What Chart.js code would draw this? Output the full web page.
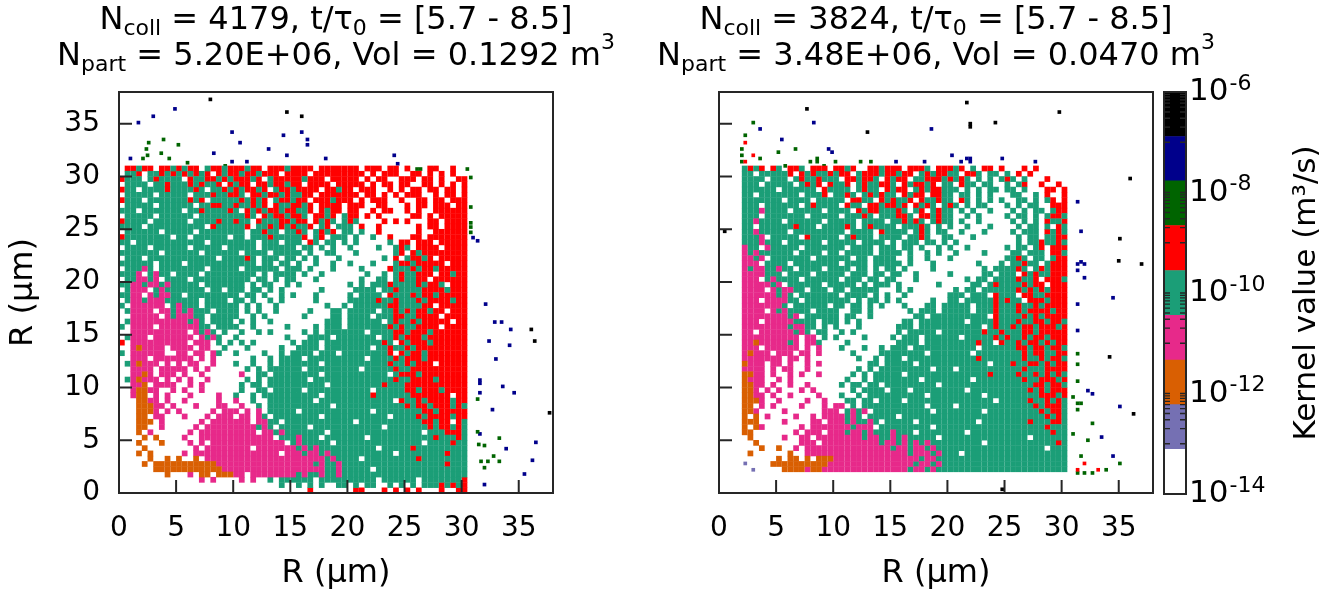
<!DOCTYPE html>
<html>
<head>
<meta charset="utf-8">
<script src="https://cdn.jsdelivr.net/npm/chart.js@4.4.0/dist/chart.umd.min.js"></script>
<style>
  html, body { margin: 0; padding: 0; background: #fff; overflow: hidden; }
  #wrap { position: relative; width: 1332px; height: 597px; }
  canvas { position: absolute; top: 0; }
  .ttl { position: absolute; width: 600px; text-align: center; white-space: nowrap;
         font: 32px/36px 'DejaVu Sans', sans-serif; color: #000; }
  .ttl sub, .ttl sup { font-size: 22px; line-height: 0; vertical-align: baseline; position: relative; }
  .ttl sub { top: 6px; }
  .ttl sup { top: -16px; }
</style>
</head>
<body>
<div id="wrap">
  <canvas id="left" width="600" height="597" style="left:0"></canvas>
  <canvas id="right" width="600" height="597" style="left:600px"></canvas>
  <canvas id="cbar" width="177" height="597" style="left:1155px"></canvas>
  <div class="ttl" style="left:36px;top:0">N<sub>coll</sub> = 4179, t/τ<sub>0</sub> = [5.7 - 8.5]</div>
  <div class="ttl" style="left:36px;top:36px">N<sub>part</sub> = 5.20E+06, Vol = 0.1292 m<sup>3</sup></div>
  <div class="ttl" style="left:636px;top:0">N<sub>coll</sub> = 3824, t/τ<sub>0</sub> = [5.7 - 8.5]</div>
  <div class="ttl" style="left:636px;top:36px">N<sub>part</sub> = 3.48E+06, Vol = 0.0470 m<sup>3</sup></div>
</div>
<script>
// axes
const xTicks = [0, 5, 10, 15, 20, 25, 30, 35];
const yTicks = [0, 5, 10, 15, 20, 25, 30, 35];
const axisMax = 38;

// kernel classes (colour bands of the colour bar, low -> high)
const classes = ['v', 'o', 'p', 't', 'r', 'g', 'n', 'k'];
const classColors = {
  v: '#7570b3', o: '#d95f02', p: '#e7298a', t: '#1b9e77',
  r: '#ff0000', g: '#006400', n: '#00008b', k: '#000000'
};

// colour bar
const cbEdges = [1e-14, 7.7e-14, 6.0e-13, 4.6e-12, 3.6e-11, 2.8e-10, 2.2e-9, 1.7e-8, 1.3e-7, 1e-6];
const cbColors = ['#ffffff', '#7570b3', '#d95f02', '#e7298a', '#1b9e77', '#ff0000', '#006400', '#00008b', '#000000'];
const cbLabelExp = [-14, -12, -10, -8, -6];
const cbMinorExp = [-13, -11, -9, -7];

// binned kernel map, 0.5 um cells; rows from R=31 down to R=0, groups of 10 columns from R=0
const cell = 0.5;
const gridTop = 31;

const grid1 = [
  ".rrtrr.rrt rtrr.trrtr rrtrr.rrrt rrrr.rrrrr rr.rrr.rr. r...rr..r. ..",
  ".ttr.ttrtr trtrtr.rtr rtrrtrrr.r rrr.rrrrrr rrr.r.rrr. .rr.r.r.r. ..",
  "rttt.trttt t.rttrrtrt rrrtr.trrr rrtrrr.rrr rr.r.rr..r rr.rr.r..r r.",
  ".tttt.ttrt ttrtrttr.r trr.rrtrrt rr.rrrr.rr rrr.r.rr.r r..rr.r.r. r.",
  "rtt.ttttrt tttrt.ttrt rtrrtr.trr trrrr.rrtr r.rrr..r.r .rr.rr.rr. r.",
  ".ttttt.ttt tt.tttrttr rt.rrtrrtr ttrr.rrrrr rr.rr.r.r. rrr..r.rr. r.",
  "rttt.ttttt ttrtr.tttt trtrtr.trr trr.rrrtrr r.r.rrr..r ..rr.rr.rr r.",
  ".ttttt.ttt ttt.ttrrtt rttrtr.rtt rrtr.rrrr. rrr..rr... r.rr.rrr.r r.",
  "ttt.tttttt t.ttrttttr t.rtrtrrtr rttr.rtrr. rr..r.rr.. r.r..rrrrr r.",
  ".ttttt.ttt ttt.tttttt ttrt.rtrrt rrt.rrtr.t rr.r.r.... .rr.r.rrrr r.",
  "rtttt.tttt tt.ttttrtt rtt.rtttrr trr.rtrt.t rt....r.r. r...rr.rrr r.",
  "tttt.ttttt ttttt.rttt ttr.ttrtrt rttr.tr.tt t.r..r.... ..r.rr.rrr r.",
  ".tttttt.tt ttt.tttttt tt.ttrtt.t trt.trtr.t t.t..r.... ..r..rrrrr r.",
  "rtttttttt. tt.tttttt. tt.tttrttt ttr.tr.ttt .t..t..r.. .rr.rrrrrr r.",
  "tt.ttttttt ttttt.tttt tttt.ttt.t tt.rt.tt.t .t.....t.r r.rrr.rrrr r.",
  ".tttt.tttt tt.ttttt.t tttt.ttttt t.tt.t.t.. t....t..tr t.rrrr.rrr r.",
  "ttttttt.tt tttt.ttttt t.tttt.ttt tt.t..tt.. .t......tr .rtrrrrrrr r.",
  ".ttt.ttttt ttttttt.tt ttrt.ttt.t t.t.t...t. ......t.r. trrtr.rrrr r.",
  "tttttt.ttt t.tttttttt tttt.tt.tt .t..t..t.. t...t...tr rtrrrrr.rr r.",
  ".tttpt.ttt ttttt.tttt t.tttttt.t tt.t...t.. ..t....rtt trtrrtrrrr r.",
  "tttp.tptt. tttt.ttttt tttt.t.ttt t.t..t.... ...t..t.tr ttrrr.rrtr r.",
  ".ttpptp.tt tt.ttttttt ttt.tt.t.t t...t..... ..t..tt.tr ttrr.rrrrr r.",
  "ttpptpptpt tttt.ttttt tt.t.tt..t .t........ t.t.tttrtt ttrtrrt.rr r.",
  ".tppp.tptt ttttt.tt.t tt.tt.t.t. .....t.... .tttt.ttrt tttrrrrtrr r.",
  "ttpp.ptppt t.tttttttt t.tt.t..t. t...t..... t.tttt.rtt trtrrtrrrr r.",
  ".tpptppptt tttt.tttt. tt.t..t.t. ....t..... tttttrttrt ttrtrrrrtr r.",
  "t.pppppp.t pttt.ttttt t.t.t..t.. ......t..t .ttttttrrt tttrr.rrrr r.",
  ".tpppp.ppt ptpttt.ttt t.t.t..t.. ...t...tt. ttttt.ttrt rtrrtrr.rr r.",
  "..ppppp.pt ppptt.tttt t..t.t.... ..t....tt. tttt.tttrr ttrrrr.rrr r.",
  ".tpppppppp pptpt.tttt .t.t..t... ......ttt. tttttt.trt trtrrrrr.r r.",
  "t.pppp.ppp pppptt.ttt t..t.....t ....t.ttt. tttttttrtr ttrrrr.rrr r.",
  "..pppppppp pp.ptpt.t. .t..t.t... ..t.t.tttt ttt.ttttrr trrrtrrrrr r.",
  ".tppp.pppp ppp.ptpt.. t........t ...tttt.tt ttttt.ttrt rrrtrrrrrr r.",
  "r.pppppppp pp.ppp.t.t .t.t...... t.ttt.tttt ttttttrt.r trrrtrrrrr r.",
  "..popppp.p ppp.pp..t. ..t.....t. .tttt.tttt tttt.ttrtt rtrrrrrrrr r.",
  "t.pppppp.. pp.pp.pt.. t....t..t. tttt.ttt.t tttttttr.r trrtrrrrrr r.",
  "..ppp.pppp ppp.p.p... ...t..t.tt tt.ttttttt ttt.ttttrt rrrtrrrrrr r.",
  ".tpoppp.p. p.pp..p... t..t..t.tt ttttt.tttt tttttttrtt rtrrr.rrrr r.",
  "..pppp.ppp pp.p.p.... ..t.t.tttt tt.ttttttt tt.tttttrt trrrrrrrrr r.",
  "..ppop.ppp .p..p..... .p..tt.ttt ttttt.tttt ttttttt.tr rrtrrrrrrr r.",
  ".tpoppp.p. p.p..p.... ..t.t.tttt ttt.tttttt ttttttttrt trrrrtrrrr r.",
  "..ppo.pppp ..p.p..... .t.tt.tttt tttttt.ttt ttttttrttt rrrrrrrrrr r.",
  "..poopp..p .p..p..... .t..tt.ttt tt.ttttttt tttt.ttttt rrtrrrtrrr r.",
  "..poo.p.p. ..p....p.. t..t.ttttt ttttt.tttt ttttrttttt trrrrrrr.r r.",
  "...oopp.p. .p.....p.. p..t..tttt tttt.ttttt tttttttt.r ttrtrrrrtr r.",
  "...ooopp.p ...p...pp. .p..t.tttt ttttttt.tt tttttttttt rtrrtrrrtr t.",
  "...ooop.p. p.....p.pp p.p.p.tttt t.tttttttt tttt.ttttt tttrrtrrrr r.",
  "...oo.pp.. .p...p.ppp .pp.pt.ttt ttttt.tttt ttttttt.tt ttrtrrrrtr r.",
  "...ooo.p.. ....p.pppp ppp.pptt.t tttttttttt t.tttttttt tttrrtrr.r t.",
  "...oo..p.. ...p.ppppp pppptpt.tt ttt.tttttt tttttt.ttt ttttrtrrtr t.",
  "...o.p.... ..p.pppppp pppp.pptpt tttttt.ttt tttttttttt ttt.tttrrr t.",
  "....o.o... .p..pppppp ppppppp.tt tpttt.tttt ttt.tttttt tttttrtttr t.",
  "...o...o.. ..p.p.pppp ppppppppp. tpttttt.tt tttttttttt ttt.ttttrt t.",
  "....o..... ...p.ppppp ppp.pppppp ptptpttttt ttttt.tttt trtttttttt t.",
  "...o.o.... .p.ppppppp pppppppp.p pptpptpttt tttttttt.t tttttttrtt t.",
  ".....o..o. o..o.ppppp pppppppppp pppppptptt tt.ttttttt ttrttttttt t.",
  "....o.oooo oooooooppp pppppppppp pppptpttpt tttttttttt tttttttrtt t.",
  "......oooo oooooooopp pppppppppp ppppppttpt tttt.ttttt tttttttttt t.",
  "........o. ..p.oo.ooo pp.ppppppp ptpttpttpt tttttttttt tttttttttt t.",
  ".......... ....p.p... .p.p..t.tt tttt.ttttt ttttt.tttt tt.ttttttt r.",
  ".......... .......... ........t. .t.t.t..tt .t.tt..t.t .t.tttrtrt r.",
  ".......... .......... .......... ...r...... .rr...r.r. r.r...r..r r."
];

const grid2 = [
  "....trtr.r t.rrt.rrr. rrtr..rrtr rr.rrrt.rr rtr.t.rr.r ...r.r.... ..",
  "....tt.ttt ttr.rtrttr trr.trrrtr rtrr.trtrr tt.rrt.tt. t.r.r..... ..",
  "....tttt.t tt.trttrtt t.rrtrrt.r trr.ttrrrt rtrt.t.t.t rt.t...r.. ..",
  "....ttt.tt ttt.trtr.r ttr.trttrr t.rtrrtr.t t.rtt.tt.. t.tr..r..r ..",
  "....tttttt .tttttt.rt ttt.trtt.r trr.trtrrt tt.t.t.tt. tt.t...rr. r.",
  "....tt.ttt tttt.tttr. ttrt.trtrt t.rtrr.rrt t.tt.t.t.. .tt..t.r.. r.",
  "....tttttt t.tttt.ttt tt.rrtt.rt rttr.rttrt t.rt.t.t.t ..tt.t.tr. r.",
  "....ttt.tt tttt.trttt t.rtt.rrtr rtr.rtrt.t rt.t.tt... t.t.tt..rr r.",
  "....tttptt tt.ttttt.t ttt.rtrrtt trt.tr.trt t.t.t..t.. .t.t.tt.tr r.",
  "....ttt.tt ttttt.tttt t.tttrt.tt trrt.rrtrt t..t.t.... t.tt.t.trr t.",
  "....ttpttt t.tttttt.t tttt.tttt. ttrtrt.trt t.t..t.... .t.t.t.rtt r.",
  "....tt.ttt tttrttt.tt ttrt.trttt t.tttrt.t. t..t...t.. ..t.tt.t.r t.",
  "....ttpttt tt.ttttttt tt.tttt.rt ttt.trt.tt ..t...t... .t.ttt.rtr t.",
  "....tttp.t tttt.rtttt t.trttt.tt tt.ttrt..t t...t..... ..t.tt.ttr r.",
  "....tttptt t.tttttt.t tttt.tttt. t.ttt.tt.t .t........ ..t.ttrttr t.",
  "....ptt.pt tttt.ttttt tt.tttt.tt t.tt.t..t. t..t...... t.tt.tr.rr r.",
  "....ptpttt ttt.tttt.t t.ttttt.tt tt.t..t.t. .t....t... .tt.ttt.rr t.",
  "....pptp.t tttttt.ttt ttt.tt.ttt t..t..t... t......... ttrt.tt.tr r.",
  "....ppp.tt tt.ttttttt t.tttt.ttt tt.t...t.. .....t...t .ttrtt.trr r.",
  "....ptpptt ptt.tttt.t ttt.tt.t.t t.t....t.. ......t.tt ttrt.trtrr r.",
  "....pppptt t.tttt.ttt tt.ttt.tt. tt..t..... t.....tt.t tt.rtrttrr r.",
  "....ppp.tp tttt.ttttt t.ttt.tt.t t...t..... ...t.tt.tt ttrttr.rrr t.",
  "....pppppt p.tttttt.t tttt.t.ttt .t......t. ....tt.trt tttrtrr.rr r.",
  "....pppp.p tpptt.ttt. tt.ttttt.. .t.t...... .t.tt.tttt ttrtrtrtrr r.",
  "....pppppp tpt.tttttt t.tttt.t.t ..t....... ttt.ttt.rt tt.rrttrrr r.",
  "....ppp.pp pptt.ttttt ttt.t.tt.t .t.....t.. tt.tttttrt rtt.rrrtrr r.",
  "....pppppp pt.tttttt. tt.tt.t.t. ..t...tt.t tttt.tttrt ttrttrtrrr r.",
  "....pppp.p tptttt.ttt t..tt.t... ...t.ttt.t tttt.tttrt ttrtrrrrtr r.",
  "....pppppp pptp.ttttt t.tt..t... ....tt.ttt ttttttt.rt tttrtrtrrr r.",
  "....ppp.pp ppptttt.tt t.t.t..... ..tt.ttttt ttt.ttttrt ttrttrrtrr t.",
  "....pppppp pptpptt.t. t...t..... .ttt.ttttt tttttt.trt trtrrtrrrt r.",
  "....pp.ppp ppptpt.tt. .t.t...... .t.ttttt.t ttttttrttr tttrrtrrrr r.",
  "....pppppp pppp.pp.t. t....t.... t.ttt.tttt tt.tttttrt rttrtrrtrr r.",
  "....ppoppp pptp.ppt.. ..t....... .tttt.tttt tttttrtt.r ttrtrrtrtr r.",
  "....ppp.pp pppp.p.p.. .t...t..t. ttt.tttttt ttttt.tttt ttrrtrrtrr t.",
  "....poppp. ppp.pp.p.. ...t....tt tttttt.ttt tttt.ttttt tttrtrrttr r.",
  "....pppppp p.pp.p.... ....t..t.t tt.ttttttt tttttrtttt tttrttrtrr t.",
  "....oppp.p p.p..p.p.. ......tt.t tttt.ttttt ttttttt.tt trttrrtrtr r.",
  "....pppp.p .pp..p.... ....t.t.tt ttttttt.tt t.tttttttt tttrtttrrr r.",
  "....oopp.p ..p.p..p.. ...t.t.ttt tt.ttttttt tttttttrtt ttrttrtrtr t.",
  "....oppp.. p.p....... ..t..t.ttt ttttt.tttt tttt.ttttt tttrttrrrt r.",
  "....oopp.p ..p..p.... .t.tt.tt.t tttttttt.t tttttttttt tttttrrtrr t.",
  "....oop.p. p...p.p... ...t.tttt. ttt.tttttt ttt.tttttt ttttrtrtrr r.",
  "....oopp.p ..p....p.. .t..t.tttt tttttt.ttt tttttt.ttt ttttttrrrt r.",
  "....ooop.. p....p..p. ..tt.tt.tt tt.ttttttt tttttttt.t ttttrttrtr t.",
  "....oo.p.p ....p...p. pp.t.ttttt tttttt.ttt t.tttttttt tttttrtrrr t.",
  "....oop... .p......pp p.tptp.ttt ttttttt.tt tttttt.ttt ttttttrtrr t.",
  "....o.o.p. ...p..p.pp pptpt.tttt t.tttttttt tttttttttt tttttttrtr t.",
  "....ooo... .p....pp.p pptpttpt.t tttt.ttttt ttttt.tttt ttttrtttrr t.",
  "....o.op.. ....p.pppp ppptppp.tt ttttttt.tt tttttttttt tttttttrtt t.",
  "....oo.... ...p.ppp.p pptpptpttt pttt.ttttt ttt.tttttt ttttttttrt t.",
  ".....o.... .p..pp.ppp ppppptpptt ptpttttt.t tttttttttt tttt.ttttt t.",
  "......o... ....ppp.pp pppppppptp ptptptpttt tttttt.ttt tttttttttr t.",
  ".......o.. o..p.ppppp pppppppppp tpptpptptt tttttttttt ttttttt.tt t.",
  ".....o.... ..o..ppppp pppppppppp ppptppptpt tt.ttttttt tttttttttt t.",
  ".......... o.oo.o.ooo pppppppppp ppppptpptt tttttttttt tttttttttt t.",
  ".........o ooooooooop pppppppppp pppptpptpt tttttttttt tttttttttt t.",
  ".......... .oooopoopp pppppppppp ppptpptptt tttttttttt tttttttttt t."
];

// isolated cells outside the main block [R1, R2, class]
const out1 = [
  [1.0, 31.7, 'n'], [1.7, 35.1, 'n'], [3.0, 35.7, 'n'], [4.9, 36.4, 'n'], [8.3, 32.2, 'n'],
  [9.9, 34.2, 'n'], [9.9, 31.4, 'n'], [10.6, 33.2, 'n'], [11.2, 31.4, 'n'], [13.1, 32.6, 'n'],
  [14.4, 33.9, 'n'], [14.7, 32.0, 'n'], [16.0, 34.2, 'n'], [16.5, 33.5, 'n'], [16.5, 33.0, 'n'],
  [18.1, 31.7, 'n'], [24.1, 32.0, 'n'], [24.4, 31.2, 'n'], [31.0, 24.2, 'n'], [31.4, 23.9, 'n'],
  [32.1, 17.9, 'n'], [32.9, 16.2, 'n'], [33.5, 16.2, 'n'], [34.3, 15.5, 'n'], [32.4, 14.4, 'n'],
  [34.2, 14.0, 'n'], [33.0, 12.7, 'n'], [31.6, 10.7, 'n'], [31.6, 10.4, 'n'], [33.6, 10.1, 'n'],
  [34.6, 9.5, 'n'], [31.6, 9.5, 'n'], [32.7, 7.9, 'n'], [31.6, 5.6, 'n'], [36.5, 4.8, 'n'],
  [33.9, 4.2, 'n'], [36.2, 3.1, 'n'], [35.5, 1.8, 'n'], [32.0, 0.8, 'n'],
  [8.0, 37.3, 'k'], [14.7, 36.1, 'k'], [16.0, 35.7, 'k'], [36.1, 15.5, 'k'], [36.4, 14.4, 'k'],
  [37.7, 7.6, 'k'],
  [2.1, 31.7, 'g'], [2.4, 32.6, 'g'], [2.5, 32.0, 'g'], [2.6, 33.2, 'g'], [3.7, 32.2, 'g'],
  [3.9, 33.5, 'g'], [4.4, 31.7, 'g'], [5.2, 33.0, 'g'], [6.0, 31.3, 'g'], [9.3, 31.0, 'g'],
  [26.1, 30.7, 'g'], [26.4, 30.7, 'g'], [27.6, 30.7, 'g'], [30.5, 30.7, 'g'], [30.8, 29.9, 'g'],
  [30.8, 27.1, 'g'], [30.8, 25.6, 'g'], [30.8, 25.2, 'g'], [30.8, 24.7, 'g'], [31.4, 8.9, 'g'],
  [31.4, 5.8, 'g'], [32.0, 4.5, 'g'], [33.3, 5.2, 'g'], [31.5, 4.6, 'g'], [31.7, 3.0, 'g'],
  [32.3, 3.0, 'g'], [33.3, 3.0, 'g'], [32.0, 2.4, 'g'], [32.8, 3.5, 'g']
];

const out2 = [
  [21.7, 37.0, 'k'], [7.7, 36.4, 'k'], [29.8, 36.1, 'k'], [22.0, 35.0, 'k'], [22.0, 34.7, 'k'],
  [24.2, 35.1, 'k'], [13.0, 34.2, 'k'], [36.0, 29.8, 'k'], [35.1, 24.1, 'k'], [35.0, 22.0, 'k'],
  [37.0, 21.7, 'k'], [34.2, 12.9, 'k'], [36.3, 7.5, 'k'], [24.8, 0.35, 'k'], [0.5, 24.8, 'k'],
  [8.3, 35.1, 'n'], [3.6, 34.5, 'n'], [18.6, 34.5, 'n'], [5.5, 33.5, 'n'], [9.6, 32.6, 'n'],
  [9.9, 32.3, 'n'], [20.4, 32.0, 'n'], [22.0, 31.7, 'n'], [22.0, 31.4, 'n'], [21.7, 31.7, 'n'],
  [24.8, 31.7, 'n'], [15.5, 31.4, 'n'], [18.0, 31.4, 'n'], [21.2, 31.4, 'n'], [27.7, 31.4, 'n'],
  [31.4, 27.6, 'n'], [31.7, 24.8, 'n'], [31.7, 21.9, 'n'], [31.4, 21.7, 'n'], [32.0, 21.7, 'n'],
  [31.4, 21.1, 'n'], [32.0, 20.4, 'n'], [34.5, 18.5, 'n'], [31.4, 17.9, 'n'], [31.4, 15.4, 'n'],
  [32.3, 9.7, 'n'], [32.7, 9.4, 'n'], [35.1, 8.2, 'n'], [33.5, 5.3, 'n'], [34.5, 3.5, 'n'],
  [3.0, 35.1, 'g'], [2.3, 33.9, 'g'], [2.0, 32.6, 'g'], [6.7, 32.6, 'g'], [5.2, 32.3, 'g'],
  [2.0, 32.0, 'g'], [3.6, 31.7, 'g'], [8.6, 31.7, 'g'], [8.6, 31.4, 'g'], [2.0, 31.4, 'g'],
  [5.8, 31.0, 'g'], [8.0, 31.4, 'g'], [9.2, 31.0, 'g'], [10.2, 31.4, 'g'], [12.4, 31.4, 'g'],
  [13.3, 31.4, 'g'], [31.4, 13.2, 'g'], [31.4, 12.2, 'g'], [31.4, 10.6, 'g'], [31.0, 9.1, 'g'],
  [31.4, 8.5, 'g'], [31.7, 8.5, 'g'], [31.4, 7.9, 'g'], [32.7, 6.6, 'g'], [31.0, 5.6, 'g'],
  [32.3, 5.0, 'g'], [31.7, 3.5, 'g'], [35.1, 2.8, 'g'], [33.9, 2.2, 'g'], [31.4, 1.9, 'g'],
  [32.0, 1.9, 'g'], [32.7, 1.9, 'g'],
  [2.3, 33.2, 'r'], [3.0, 32.0, 'r'], [2.3, 31.4, 'r'], [32.0, 2.8, 'r'], [33.2, 2.2, 'r'],
  [31.4, 2.2, 'r'],
  [2.3, 2.8, 'v'], [3.0, 2.2, 'v']
];

Chart.defaults.font.family = "'DejaVu Sans', sans-serif";
Chart.defaults.color = '#000';

function cellsOf(grid, cls) {
  const pts = [];
  grid.forEach((row, r) => {
    row.split(' ').forEach((grp, g) => {
      for (let i = 0; i < grp.length; i++) {
        if (grp[i] === cls) pts.push({ x: (g * 10 + i + 0.5) * cell, y: gridTop - (r + 0.5) * cell });
      }
    });
  });
  return pts;
}

function panelDatasets(grid, outliers) {
  const ds = [];
  classes.forEach(cls => {
    ds.push({
      data: cellsOf(grid, cls),
      pointStyle: 'rect', pointRadius: 4.05, pointHoverRadius: 4.05,
      backgroundColor: classColors[cls], borderWidth: 0
    });
  });
  classes.forEach(cls => {
    ds.push({
      data: outliers.filter(o => o[2] === cls).map(o => ({ x: o[0], y: o[1] })),
      pointStyle: 'rect', pointRadius: 2.6, pointHoverRadius: 2.6,
      backgroundColor: classColors[cls], borderWidth: 0
    });
  });
  return ds;
}

// frame with inward ticks
const framePlugin = {
  id: 'frame',
  afterDatasetsDraw(chart) {
    const { ctx, chartArea: a, scales: { x, y } } = chart;
    ctx.save();
    ctx.strokeStyle = '#262626';
    ctx.lineWidth = 2;
    ctx.beginPath();
    xTicks.forEach(v => {
      const px = x.getPixelForValue(v);
      ctx.moveTo(px, a.bottom);
      ctx.lineTo(px, a.bottom - 13);
    });
    yTicks.forEach(v => {
      const py = y.getPixelForValue(v);
      ctx.moveTo(a.left, py);
      ctx.lineTo(a.left + 13, py);
    });
    ctx.stroke();
    ctx.strokeRect(a.left, a.top, a.right - a.left, a.bottom - a.top);
    ctx.restore();
  }
};

function panelOptions(withYLabels) {
  return {
    responsive: false,
    animation: false,
    events: [],
    layout: { padding: { left: 0, right: 47, top: 92, bottom: 0 } },
    plugins: { legend: { display: false }, tooltip: { enabled: false } },
    scales: {
      x: {
        type: 'linear', min: 0, max: axisMax,
        afterBuildTicks: s => { s.ticks = xTicks.map(v => ({ value: v })); },
        afterFit: s => { s.height = 104; },
        grid: { display: false, drawTicks: false },
        border: { display: false },
        ticks: { font: { size: 28 }, padding: 19, maxRotation: 0, autoSkip: false },
        title: { display: true, text: 'R (µm)', font: { size: 32 }, padding: { top: 0, bottom: 4 } }
      },
      y: {
        type: 'linear', min: 0, max: axisMax,
        afterBuildTicks: s => { s.ticks = yTicks.map(v => ({ value: v })); },
        afterFit: s => { s.width = 119; },
        grid: { display: false, drawTicks: false },
        border: { display: false },
        ticks: { display: withYLabels, font: { size: 28 }, padding: 19, autoSkip: false },
        title: { display: withYLabels, text: 'R (µm)', font: { size: 32 }, padding: { top: 4, bottom: 0 } }
      }
    }
  };
}

new Chart(document.getElementById('left'), {
  type: 'scatter',
  data: { datasets: panelDatasets(grid1, out1) },
  options: panelOptions(true),
  plugins: [framePlugin]
});

new Chart(document.getElementById('right'), {
  type: 'scatter',
  data: { datasets: panelDatasets(grid2, out2) },
  options: panelOptions(false),
  plugins: [framePlugin]
});

// colour bar: frame, log ticks, 10^n labels and rotated title
const cbPlugin = {
  id: 'cbdeco',
  afterDraw(chart) {
    const { ctx, chartArea: a, scales: { y } } = chart;
    ctx.save();
    ctx.strokeStyle = '#262626';
    ctx.lineWidth = 1.3;
    ctx.beginPath();
    cbMinorExp.forEach(e => {
      for (let k = 1; k <= 9; k++) {
        const py = y.getPixelForValue(k * Math.pow(10, e));
        ctx.moveTo(a.left, py); ctx.lineTo(a.left + 6, py);
        ctx.moveTo(a.right, py); ctx.lineTo(a.right - 6, py);
      }
    });
    cbLabelExp.forEach(e => {
      const py = y.getPixelForValue(Math.pow(10, e));
      ctx.moveTo(a.left, py); ctx.lineTo(a.left + 6, py);
      ctx.moveTo(a.right, py); ctx.lineTo(a.right - 6, py);
    });
    ctx.stroke();
    ctx.lineWidth = 2;
    ctx.strokeRect(a.left, a.top, a.right - a.left, a.bottom - a.top);

    ctx.fillStyle = '#000';
    ctx.textAlign = 'left';
    ctx.textBaseline = 'middle';
    cbLabelExp.forEach(e => {
      const py = y.getPixelForValue(Math.pow(10, e));
      ctx.font = "31px 'DejaVu Sans'";
      ctx.fillText('10', a.right + 3, py);
      const w = ctx.measureText('10').width;
      ctx.font = "22px 'DejaVu Sans'";
      ctx.fillText('-' + Math.abs(e), a.right + 4 + w, py - 8);
    });

    ctx.translate(152, (a.top + a.bottom) / 2);
    ctx.rotate(-Math.PI / 2);
    ctx.textAlign = 'center';
    ctx.font = "31px 'DejaVu Sans'";
    ctx.fillText('Kernel value (m³/s)', 0, 0);
    ctx.restore();
  }
};

new Chart(document.getElementById('cbar'), {
  type: 'bar',
  data: {
    labels: [''],
    datasets: cbColors.map((c, i) => ({
      data: [[cbEdges[i], cbEdges[i + 1]]],
      backgroundColor: c,
      borderWidth: 0,
      barPercentage: 1,
      categoryPercentage: 1,
      grouped: false
    }))
  },
  options: {
    responsive: false,
    animation: false,
    events: [],
    layout: { padding: { left: 9, right: 0, top: 92, bottom: 103 } },
    plugins: { legend: { display: false }, tooltip: { enabled: false } },
    scales: {
      x: { display: false },
      y: {
        type: 'logarithmic', position: 'right', min: 1e-14, max: 1e-6,
        afterFit: s => { s.width = 146; },
        grid: { display: false },
        border: { display: false },
        ticks: { display: false }
      }
    }
  },
  plugins: [cbPlugin]
});
</script>
</body>
</html>
